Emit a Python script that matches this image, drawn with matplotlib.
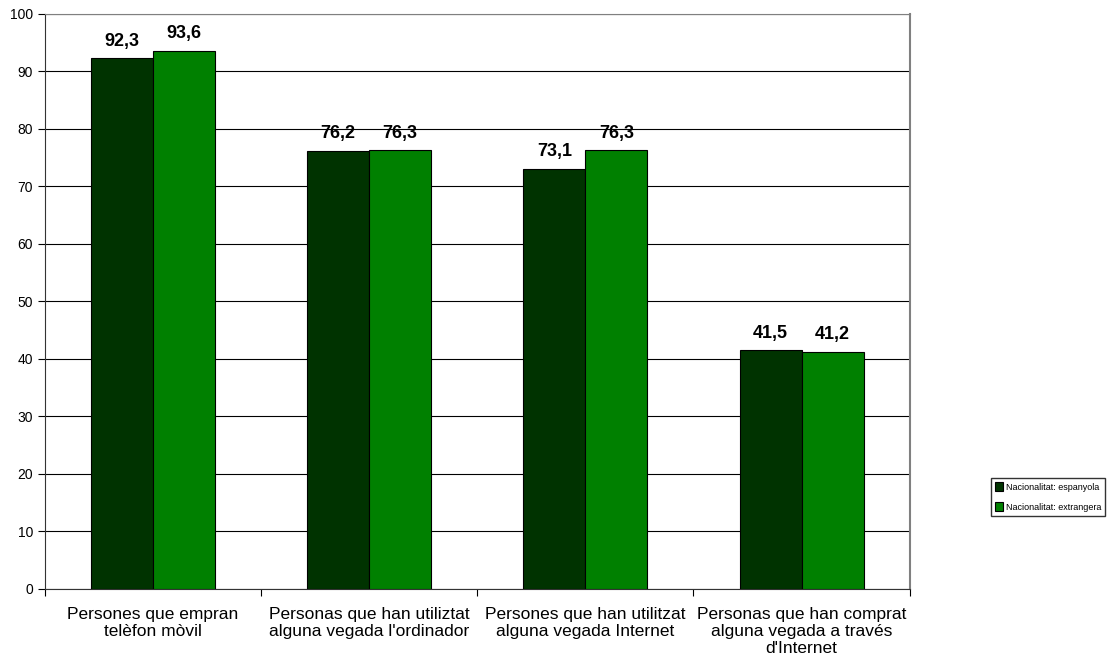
import matplotlib.pyplot as plt
import numpy as np

plt.rcParams['font.family'] = ['Liberation Sans', 'DejaVu Sans']

categorias = ['Persones que empran\ntelèfon mòvil',
              "Personas que han utiliztat\nalguna vegada l'ordinador",
              'Persones que han utilitzat\nalguna vegada Internet',
              "Personas que han comprat\nalguna vegada a través\nd'Internet"]
espanyola  = [92.3, 76.2, 73.1, 41.5]
extrangera = [93.6, 76.3, 76.3, 41.2]
series     = ['Nacionalitat: espanyola', 'Nacionalitat: extrangera']

fig = plt.figure(figsize=(11.1, 6.64), dpi=100)
ax = fig.add_axes([0.0405, 0.113, 0.779, 0.866])

x = np.arange(len(categorias))
w = 0.287
b1 = ax.bar(x - w/2, espanyola, width=w, color='#003300', edgecolor='black', linewidth=0.8, label=series[0], zorder=3)
b2 = ax.bar(x + w/2, extrangera, width=w, color='#008000', edgecolor='black', linewidth=0.8, label=series[1], zorder=3)

for bars, vals in [(b1, espanyola), (b2, extrangera)]:
    for r, v in zip(bars, vals):
        ax.text(r.get_x() + r.get_width()/2, v + 1.5, f'{v:.1f}'.replace('.', ','),
                ha='center', va='bottom', fontsize=13, fontweight='bold')

ax.set_xlim(-0.5, 3.5)
ax.set_ylim(0, 100)
ax.set_yticks(np.arange(0, 101, 10))
ax.yaxis.grid(True, color='black', linewidth=0.8, zorder=0)
ax.set_axisbelow(True)

# ticks at category boundaries, labels at centers
ax.set_xticks(np.arange(-0.5, 4, 1))
ax.set_xticklabels([])
ax.set_xticks(x, minor=True)
ax.set_xticklabels(categorias, minor=True, fontsize=12.5, linespacing=1.15)
ax.tick_params(axis='x', which='minor', length=0, pad=13)
ax.tick_params(axis='x', which='major', length=5, direction='out')
ax.tick_params(axis='y', length=5, direction='out', labelsize=10)

ax.spines['top'].set_color('#808080')
ax.spines['right'].set_color('#808080')
ax.spines['right'].set_linewidth(1.5)
for s in ['left', 'bottom']:
    ax.spines[s].set_color('#333333')

fig.legend(loc='center right', bbox_to_anchor=(0.9955, 0.2515),
           prop={'family': ['Liberation Sans Narrow', 'Liberation Sans'], 'size': 6.5},
           frameon=True, fancybox=False, edgecolor='black', handlelength=0.9, handleheight=1.1,
           handletextpad=0.3, borderpad=0.45, labelspacing=1.2, borderaxespad=0)

plt.savefig('out.png', dpi=100)
